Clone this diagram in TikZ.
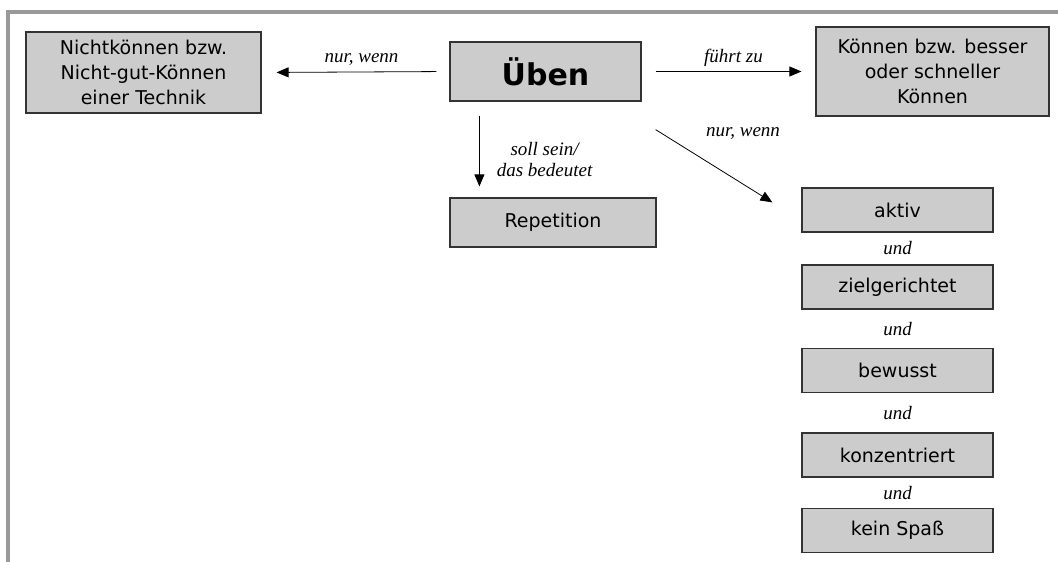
\documentclass[tikz,border=0pt]{standalone}
\usepackage{fontspec}
\usetikzlibrary{arrows.meta}
\newfontfamily\boxfont{DejaVu Sans}
\newfontfamily\labelfont{Liberation Serif}

\begin{document}
\begin{tikzpicture}[x=1pt, y=-1pt,
        box/.style={draw=black!80, fill=black!20, line width=1.2pt, align=center, inner sep=0pt,
            font=\boxfont\fontsize{19}{25}\selectfont},
        arr/.style={-{Triangle[length=12pt,width=10pt]}, line width=0.8pt},
        lbl/.style={font=\labelfont\itshape\fontsize{19}{21}\selectfont, inner sep=0pt, align=center}]
        \useasboundingbox (0,0) rectangle (1058,562);
        % Draw frame
        \draw [line width=4pt, color=black!40] (8,562) -- (8,12) -- (1058,12);
        % Top row
        \node [box, minimum width=235pt, minimum height=81pt] (nicht) at (143.5,72.5) {Nichtkönnen bzw.\\Nicht-gut-Können\\einer Technik};
        \node [box, minimum width=191pt, minimum height=59pt, font=\boxfont\bfseries\fontsize{30}{36}\selectfont] (ueben) at (545.5,71.5) {Üben};
        \node [box, minimum width=233pt, minimum height=89pt] (koennen) at (932.5,71.5) {Können bzw. besser\\oder schneller\\Können};
        \node [box, minimum width=206pt, minimum height=49pt] (repetition) at (553,222.5) {Repetition};
        % Right column
        \foreach \y/\name/\txt in {210/aktiv/aktiv, 287/ziel/zielgerichtet, 370.5/bewusst/bewusst, 455/konz/konzentriert, 530.5/spass/kein Spaß} {
            \node [box, minimum width=191pt, minimum height=44pt] (\name) at (897.5,\y) {\txt};
        }
        \foreach \a/\b in {aktiv/ziel, ziel/bewusst, bewusst/konz, konz/spass} {
            \path (\a.south) -- (\b.north) node [lbl, midway] (und-\a) {und};
        }
        % Draw arrows
        \draw [arr, shorten <=13pt, shorten >=15pt] (ueben.west) -- (nicht.east)
            node [lbl, midway, above=6pt, xshift=6pt] (lbl-nicht) {nur, wenn};
        \draw [arr, shorten <=14pt, shorten >=14pt] (ueben.east) -- (koennen.west)
            node [lbl, midway, above=5pt, xshift=5pt] (lbl-koennen) {führt zu};
        \draw [arr, shorten <=14pt, shorten >=11pt] ([xshift=30pt]ueben.south west) -- ([xshift=30pt]repetition.north west)
            node [lbl, midway, right=17pt, yshift=-10pt] (lbl-repetition) {soll sein/\\das bedeutet};
        \draw [arr] ([shift={(14pt,-28pt)}]ueben.south east) -- ([shift={(-29pt,-15pt)}]aktiv.north west)
            node [lbl, midway, shift={(29pt,33pt)}] (lbl-aktiv) {nur, wenn};
    \end{tikzpicture}
\end{document}
